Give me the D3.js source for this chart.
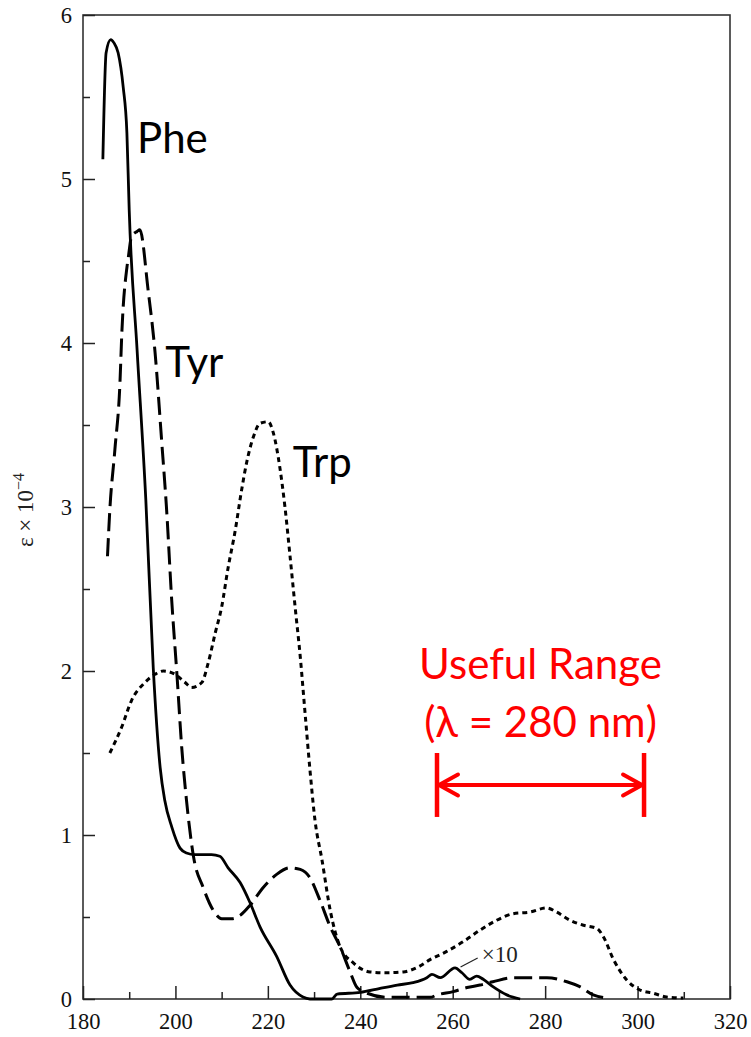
<!DOCTYPE html>
<html>
<head>
	<meta charset="utf-8" />
	<title>Aromatic amino acid absorbance</title>
	<style>
		body { margin: 0; background: #fff; }
		svg { display: block; }
		.aa { font-family: Lato, "Noto Sans", sans-serif; font-size: 42px; fill: #000; }
		.note { font-family: Lato, "Noto Sans", sans-serif; font-size: 42px; fill: #ff0000; text-anchor: middle; }
	</style>
</head>
<body>
	<div id="chart"></div>
	<script src="https://cdn.jsdelivr.net/npm/d3@7"></script>
	<script>
		// spectra: [wavelength nm, epsilon x 1e-4]
		var phe = [[184.3,5.12],[185.0,5.77],[186.0,5.85],[186.7,5.83],[187.6,5.77],[188.7,5.56],[189.5,5.28],
			[190.0,4.81],[191.7,3.96],[193.6,3.04],[195.2,2.02],[196.7,1.41],[197.7,1.21],[199.2,1.05],[201.0,0.92],
			[202.4,0.89],[204.2,0.88],[207.8,0.88],[209.6,0.87],[211.4,0.80],[214.0,0.71],[216.1,0.59],[218.3,0.44],
			[221.9,0.26],[224.8,0.085],[227.6,0.012],[229.1,0],[233.8,0],[235.0,0.03],[240.0,0.04],[244.3,0.065],
			[248.0,0.085],[251.4,0.10],[254.4,0.13],[255.5,0.15],[257.3,0.13],[260.5,0.19],[262.0,0.16],[263.7,0.12],
			[265.2,0.14],[266.6,0.12],[268.7,0.075],[271.7,0.025],[274.6,0]];
		var tyr = [[185.3,2.70],[185.8,2.98],[186.9,3.35],[188.0,3.76],[188.4,4.06],[189.5,4.46],[189.8,4.52],
			[190.5,4.65],[191.7,4.68],[192.3,4.69],[194.1,4.32],[195.6,3.94],[197.0,3.41],[198.1,2.98],[199.2,2.43],
			[200.3,1.99],[201.4,1.52],[202.4,1.21],[203.9,0.87],[206.0,0.68],[208.2,0.54],[210.0,0.49],[212.2,0.49],
			[214.0,0.51],[216.1,0.57],[219.0,0.68],[221.9,0.76],[224.8,0.80],[227.0,0.79],[229.1,0.74],[231.3,0.60],
			[233.5,0.44],[235.6,0.32],[237.8,0.165],[239.3,0.07],[241.5,0.035],[245.8,0.01],[255.1,0.01],[256.6,0.025],
			[260.1,0.045],[263.1,0.07],[265.9,0.085],[268.7,0.105],[273.1,0.13],[276.7,0.13],[280.4,0.13],[284.7,0.105],
			[287.5,0.075],[290.4,0.025],[293.4,0.005]];
		var trp = [[185.8,1.50],[188.4,1.66],[190.5,1.82],[193.4,1.93],[195.6,1.98],[197.4,2.00],[199.9,1.98],
			[202.1,1.93],[203.5,1.90],[205.7,1.93],[207.1,2.05],[208.6,2.23],[210.0,2.39],[211.4,2.63],[212.9,2.85],
			[214.3,3.10],[215.4,3.27],[216.9,3.43],[218.3,3.51],[220.1,3.52],[221.2,3.45],[222.6,3.24],[223.7,3.00],
			[224.8,2.70],[225.9,2.39],[227.0,2.09],[228.0,1.76],[229.1,1.40],[230.2,1.09],[231.7,0.85],[233.5,0.54],
			[235.6,0.32],[238.5,0.22],[242.1,0.165],[245.7,0.16],[249.3,0.165],[252.5,0.195],[255.1,0.24],[258.7,0.29],
			[262.3,0.35],[265.9,0.42],[269.5,0.48],[273.1,0.52],[276.7,0.53],[280.3,0.555],[282.5,0.53],[285.4,0.48],
			[288.3,0.45],[291.2,0.43],[292.6,0.38],[294.8,0.24],[297.7,0.115],[300.5,0.055],[303.4,0.035],[306.3,0.012],
			[309.9,0.006]];

		var xMajor = [180, 200, 220, 240, 260, 280, 300, 320];
		var xMinor = [190, 210, 230, 250, 270, 290, 310];
		var yMajor = [0, 1, 2, 3, 4, 5, 6];
		var yMinor = [0.5, 1.5, 2.5, 3.5, 4.5, 5.5];

		// curve labels: [name, wavelength, epsilon]
		var names = [["Phe", 191.7, 5.16], ["Tyr", 197.8, 3.79], ["Trp", 225.4, 3.18]];
		var rangeLo = 256.6, rangeHi = 301.4;

		var width = 751, height = 1037;
		var margin = {top: 15, right: 21, bottom: 38, left: 83};

		var svg = d3.select("#chart").append("svg")
			.attr("width", width).attr("height", height);

		var x = d3.scaleLinear().domain([180, 320]).range([margin.left, width - margin.right]);
		var y = d3.scaleLinear().domain([0, 6]).range([height - margin.bottom, margin.top]);

		// frame
		svg.append("rect")
			.attr("x", x(180)).attr("y", y(6))
			.attr("width", x(320) - x(180)).attr("height", y(0) - y(6))
			.attr("fill", "none").attr("stroke", "#333").attr("stroke-width", 1.6);

		function styleAxis(g) {
			g.select(".domain").remove();
			g.selectAll(".tick line").attr("stroke", "#222").attr("stroke-width", 1.5);
			g.selectAll(".tick text")
				.attr("fill", "#111")
				.style("font-family", "'Liberation Serif', 'DejaVu Serif', serif")
				.style("font-size", "22.5px");
		}

		svg.append("g").attr("transform", "translate(0," + y(0) + ")")
			.call(d3.axisBottom(x).tickValues(xMajor).tickSize(-13).tickSizeOuter(0).tickPadding(14).tickFormat(d3.format("d")))
			.call(styleAxis);
		svg.append("g").attr("transform", "translate(0," + y(0) + ")")
			.call(d3.axisBottom(x).tickValues(xMinor).tickSize(-7).tickSizeOuter(0).tickFormat(""))
			.call(styleAxis);
		svg.append("g").attr("transform", "translate(" + x(180) + ",0)")
			.call(d3.axisLeft(y).tickValues(yMajor).tickSize(-12).tickSizeOuter(0).tickPadding(11).tickFormat(d3.format("d")))
			.call(styleAxis);
		svg.append("g").attr("transform", "translate(" + x(180) + ",0)")
			.call(d3.axisLeft(y).tickValues(yMinor).tickSize(-7).tickSizeOuter(0).tickFormat(""))
			.call(styleAxis);

		// y label
		var yl = svg.append("text")
			.attr("transform", "translate(33,510) rotate(-90)")
			.attr("text-anchor", "middle")
			.style("font-family", "'Liberation Serif', serif").style("font-size", "23px").attr("fill", "#222");
		yl.append("tspan").text("ε × 10");
		yl.append("tspan").attr("dy", -9).style("font-size", "16px").text("−4");

		var line = d3.line()
			.x(function(d) { return x(d[0]); })
			.y(function(d) { return y(d[1]); })
			.curve(d3.curveMonotoneX);

		svg.append("path").datum(trp).attr("d", line)
			.attr("fill", "none").attr("stroke", "#000").attr("stroke-width", 3)
			.attr("stroke-dasharray", "5,4");
		svg.append("path").datum(tyr).attr("d", line)
			.attr("fill", "none").attr("stroke", "#000").attr("stroke-width", 3)
			.attr("stroke-dasharray", "18,7");
		svg.append("path").datum(phe).attr("d", line)
			.attr("fill", "none").attr("stroke", "#000").attr("stroke-width", 2.8)
			.attr("stroke-linejoin", "round");

		// x10 note
		svg.append("line")
			.attr("x1", x(265.4)).attr("y1", y(0.25))
			.attr("x2", x(261.7)).attr("y2", y(0.195))
			.attr("stroke", "#222").attr("stroke-width", 1.2);
		svg.append("text")
			.attr("x", x(266.3)).attr("y", y(0.226))
			.style("font-family", "'Liberation Serif', serif").style("font-size", "23px").attr("fill", "#222")
			.text("×10");

		svg.selectAll(".aa").data(names).enter().append("text")
			.attr("class", "aa")
			.attr("x", function(d) { return x(d[1]); })
			.attr("y", function(d) { return y(d[2]); })
			.text(function(d) { return d[0]; });

		// useful range annotation
		var mid = (rangeLo + rangeHi) / 2;
		svg.append("text").attr("class", "note").attr("x", x(mid)).attr("y", y(1.95)).text("Useful Range");
		svg.append("text").attr("class", "note").attr("x", x(mid)).attr("y", y(1.60)).text("(λ = 280 nm)");

		var red = "#ff0000";
		var ay = y(1.305);
		var ann = svg.append("g").attr("stroke", red).attr("fill", "none").attr("stroke-linecap", "round");
		[rangeLo, rangeHi].forEach(function(v) {
			ann.append("line").attr("x1", x(v)).attr("x2", x(v))
				.attr("y1", y(1.5)).attr("y2", y(1.11)).attr("stroke-width", 4.5).attr("stroke-linecap", "butt");
		});
		ann.append("line").attr("x1", x(rangeLo) + 2).attr("x2", x(rangeHi) - 2)
			.attr("y1", ay).attr("y2", ay).attr("stroke-width", 4);
		ann.append("path")
			.attr("d", "M" + (x(rangeLo) + 21) + "," + (ay - 10.5) + "L" + (x(rangeLo) + 2) + "," + ay + "L" + (x(rangeLo) + 21) + "," + (ay + 10.5))
			.attr("stroke-width", 4).attr("stroke-linejoin", "round");
		ann.append("path")
			.attr("d", "M" + (x(rangeHi) - 21) + "," + (ay - 10.5) + "L" + (x(rangeHi) - 2) + "," + ay + "L" + (x(rangeHi) - 21) + "," + (ay + 10.5))
			.attr("stroke-width", 4).attr("stroke-linejoin", "round");
	</script>
</body>
</html>
